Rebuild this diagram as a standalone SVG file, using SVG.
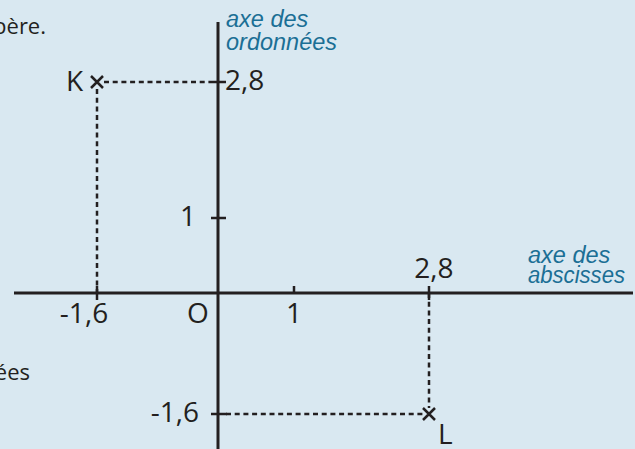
<svg xmlns="http://www.w3.org/2000/svg" width="635" height="449" viewBox="0 0 635 449">
<defs>
<style>
.bg{fill:#d9e8f1}
.axis{stroke:#231f20;stroke-width:3;fill:none}
.tick{stroke:#231f20;stroke-width:2.5;fill:none}
.dot{stroke:#231f20;stroke-width:2.5;fill:none;stroke-dasharray:5 3.7}
.cross{stroke:#231f20;stroke-width:2.5;fill:none}
.num{font-family:"Open Sans","Liberation Sans",sans-serif;font-size:28px;fill:#231f20}
.txt{font-family:"Open Sans","Liberation Sans",sans-serif;font-size:22px;fill:#231f20}
.lab{font-family:"Liberation Sans",Arial,sans-serif;font-style:italic;font-size:23.5px;fill:#1b6f95}
</style>
</defs>
<rect class="bg" x="0" y="0" width="635" height="449"/>
<g id="background-text">
<text class="txt" x="46" y="34" text-anchor="end">père.</text>
<text class="txt" x="30" y="380" text-anchor="end">ées</text>
</g>
<g id="connectors">
<line class="dot" x1="104" y1="82" x2="211" y2="82"/>
<line class="dot" x1="97" y1="89" x2="97" y2="293"/>
<line class="dot" x1="429" y1="293" x2="429" y2="408"/>
<line class="dot" x1="226" y1="414" x2="423" y2="414"/>
</g>
<g id="x-axis">
<line class="axis" x1="14" y1="293" x2="633" y2="293"/>
<line class="tick" x1="294" y1="286" x2="294" y2="293"/>
<line class="tick" x1="97" y1="286" x2="97" y2="300"/>
<line class="tick" x1="429" y1="286" x2="429" y2="300"/>
<text class="num" x="84" y="323" text-anchor="middle">-1,6</text>
<text class="num" x="198" y="323" text-anchor="middle">O</text>
<text class="num" x="294" y="323" text-anchor="middle">1</text>
<text class="num" x="434" y="278" text-anchor="middle">2,8</text>
<text class="lab" x="528" y="263">axe des</text>
<text class="lab" x="528" y="283" textLength="97" lengthAdjust="spacingAndGlyphs">abscisses</text>
</g>
<g id="y-axis">
<line class="axis" x1="218" y1="22" x2="218" y2="449"/>
<line class="tick" x1="211" y1="218" x2="226" y2="218"/>
<line class="tick" x1="211" y1="82" x2="226" y2="82"/>
<line class="tick" x1="211" y1="414" x2="227" y2="414"/>
<text class="num" x="196" y="226" text-anchor="end">1</text>
<text class="num" x="225" y="90">2,8</text>
<text class="num" x="199" y="422" text-anchor="end">-1,6</text>
<text class="lab" x="226" y="27">axe des</text>
<text class="lab" x="226" y="50">ordonnées</text>
</g>
<g id="point-K">
<path class="cross" d="M91 76 L103 88 M103 76 L91 88"/>
<text class="num" x="66" y="91">K</text>
</g>
<g id="point-L">
<path class="cross" d="M423 408 L435 420 M435 408 L423 420"/>
<text class="num" x="438" y="444">L</text>
</g>
</svg>
